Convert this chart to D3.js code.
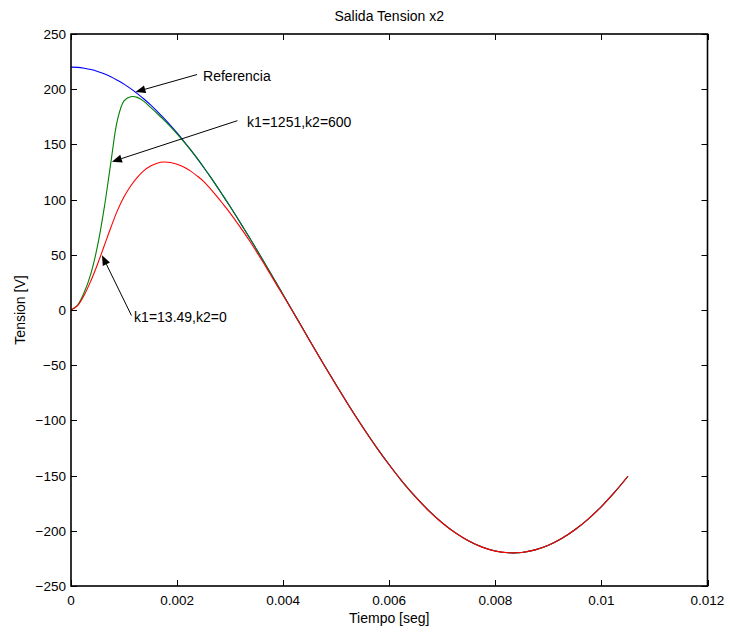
<!DOCTYPE html>
<html>
<head>
<meta charset="utf-8">
<script src="https://cdn.jsdelivr.net/npm/d3@7"></script>
<style>
  html, body { margin: 0; padding: 0; background: #fff; }
  svg { display: block; font-family: "Liberation Sans", Arial, Helvetica, sans-serif; }
</style>
</head>
<body>
<svg id="chart" width="730" height="633"></svg>
<script>
// ---- data ----
const time = [0, 0.000125, 0.00025, 0.000375, 0.0005, 0.000625, 0.00075, 0.000875, 0.001, 0.001125,
  0.00125, 0.001375, 0.0015, 0.001625, 0.00175, 0.001875, 0.002, 0.002125, 0.00225, 0.002375,
  0.0025, 0.002625, 0.00275, 0.002875, 0.003, 0.003125, 0.00325, 0.003375, 0.0035, 0.003625,
  0.00375, 0.003875, 0.004,
  0.00425, 0.0045, 0.00475, 0.005, 0.00525, 0.0055, 0.00575, 0.006, 0.00625, 0.0065,
  0.00675, 0.007, 0.00725, 0.0075, 0.00775, 0.008, 0.00825, 0.0085, 0.00875, 0.009,
  0.00925, 0.0095, 0.00975, 0.01, 0.01025, 0.0105];

const referencia = [220, 219.8, 219.0, 217.8, 216.1, 213.9, 211.3, 208.1, 204.6, 200.5,
  196.0, 191.1, 185.8, 180.0, 173.8, 167.3, 160.4, 153.1, 145.5, 137.6,
  129.3, 120.8, 112.0, 102.9, 93.7, 84.2, 74.5, 64.7, 54.7, 44.6,
  34.4, 24.1, 13.8,
  -6.9, -27.6, -48.0, -68.0, -87.4, -106.0, -123.7, -140.2, -155.6, -169.5,
  -182.0, -192.8, -201.9, -209.2, -214.7, -218.3, -219.9, -219.6, -217.3, -213.1,
  -207.0, -199.1, -189.4, -178.0, -165.0, -150.6];

const k1_1251_k2_600 = [0, 4.5, 16, 33, 58, 92, 133, 172, 189.5, 193.2,
  192.6, 189, 183.5, 178, 172.3, 166.2, 159.6, 152.6, 145.2, 137.5,
  129.3, 120.8, 112.0, 102.9, 93.7, 84.2, 74.5, 64.7, 54.7, 44.6,
  34.4, 24.1, 13.8,
  -6.9, -27.6, -48.0, -68.0, -87.4, -106.0, -123.7, -140.2, -155.6, -169.5,
  -182.0, -192.8, -201.9, -209.2, -214.7, -218.3, -219.9, -219.6, -217.3, -213.1,
  -207.0, -199.1, -189.4, -178.0, -165.0, -150.6];

const k1_1349_k2_0 = [0, 4, 13.5, 26.5, 41.5, 58, 74.5, 90, 102.5, 112.3,
  120.2, 126.3, 130.5, 133, 134, 133.6, 132, 129.5, 126, 121.5,
  116.5, 110, 103, 95.5, 87.8, 79.5, 71, 62, 52.5, 43,
  33, 23, 13.2,
  -7.1, -27.8, -48.2, -68.2, -87.6, -106.2, -123.9, -140.4, -155.8, -169.6,
  -182.1, -192.9, -202.0, -209.3, -214.8, -218.4, -219.9, -219.6, -217.3, -213.1,
  -207.0, -199.1, -189.4, -178.0, -165.0, -150.6];

const xTicks = [0, 0.002, 0.004, 0.006, 0.008, 0.01, 0.012];
const xTickLabels = ["0", "0.002", "0.004", "0.006", "0.008", "0.01", "0.012"];
const yTicks = [-250, -200, -150, -100, -50, 0, 50, 100, 150, 200, 250];
const yTickLabels = ["\u2212250", "\u2212200", "\u2212150", "\u2212100", "\u221250", "0", "50", "100", "150", "200", "250"];

const titleText = "Salida Tension x2";
const xLabelText = "Tiempo [seg]";
const yLabelText = "Tension [V]";

// annotations: text, arrow tip (data), arrow tail (data), text anchor (data)
const annotLabels = ["Referencia", "k1=1251,k2=600", "k1=13.49,k2=0"];
const annotTip = [[0.001215, 197.5], [0.000772, 134.3], [0.000584, 49.6]];
const annotTail = [[0.002377, 213.3], [0.003137, 171.5], [0.00114, -5.0]];
const annotText = [[0.00249, 212.0], [0.00332, 170.5], [0.00119, -6.6]];

// ---- layout ----
const svg = d3.select("#chart");
const L = 71, R = 707.5, T = 34, B = 586;
const x = d3.scaleLinear().domain([0, 0.012]).range([L, R]);
const y = d3.scaleLinear().domain([-250, 250]).range([B, T]);

// curves
const series = [
  { values: referencia, color: "#0000ff" },
  { values: k1_1251_k2_600, color: "#008000" },
  { values: k1_1349_k2_0, color: "#ff0000" }
];
const line = d3.line()
  .x((d, i) => x(time[i]))
  .y(d => y(d))
  .curve(d3.curveCatmullRom.alpha(0.5));

svg.append("g").selectAll("path").data(series).join("path")
  .attr("d", s => line(s.values))
  .attr("fill", "none")
  .attr("stroke", s => s.color)
  .attr("stroke-width", 1.1);

// axes box
svg.append("rect")
  .attr("x", L).attr("y", T).attr("width", R - L).attr("height", B - T)
  .attr("fill", "none").attr("stroke", "#000").attr("stroke-width", 1.6);

// ticks
const tk = 6;
const tg = svg.append("g").attr("stroke", "#000").attr("stroke-width", 1);
xTicks.forEach(v => {
  const px = Math.round(x(v)) + 0.5;
  tg.append("line").attr("x1", px).attr("x2", px).attr("y1", B).attr("y2", B - tk);
  tg.append("line").attr("x1", px).attr("x2", px).attr("y1", T).attr("y2", T + tk);
});
yTicks.forEach(v => {
  const py = Math.round(y(v)) + 0.5;
  tg.append("line").attr("x1", L).attr("x2", L + tk).attr("y1", py).attr("y2", py);
  tg.append("line").attr("x1", R).attr("x2", R - tk).attr("y1", py).attr("y2", py);
});

// tick labels
svg.append("g").selectAll("text").data(xTicks).join("text")
  .attr("x", d => x(d)).attr("y", B + 19)
  .attr("text-anchor", "middle").attr("font-size", 13.5).attr("fill", "#000")
  .text((d, i) => xTickLabels[i]);
svg.append("g").selectAll("text").data(yTicks).join("text")
  .attr("x", L - 5).attr("y", d => y(d) + 5)
  .attr("text-anchor", "end").attr("font-size", 13.5).attr("fill", "#000")
  .text((d, i) => yTickLabels[i]);

// title & labels
svg.append("text").attr("x", (L + R) / 2).attr("y", 21)
  .attr("text-anchor", "middle").attr("font-size", 14).text(titleText);
svg.append("text").attr("x", (L + R) / 2).attr("y", 623)
  .attr("text-anchor", "middle").attr("font-size", 14).text(xLabelText);
svg.append("text").attr("transform", `translate(25,${(T + B) / 2}) rotate(-90)`)
  .attr("text-anchor", "middle").attr("font-size", 14).text(yLabelText);

// annotations
const ag = svg.append("g");
annotLabels.forEach((lab, i) => {
  const tx = x(annotTip[i][0]), ty = y(annotTip[i][1]);
  const sx = x(annotTail[i][0]), sy = y(annotTail[i][1]);
  const dx = sx - tx, dy = sy - ty, len = Math.hypot(dx, dy);
  const ux = dx / len, uy = dy / len;
  const hl = 10, hw = 4;
  const bx = tx + ux * hl, by = ty + uy * hl;
  ag.append("line").attr("x1", sx).attr("y1", sy).attr("x2", bx).attr("y2", by)
    .attr("stroke", "#000").attr("stroke-width", 1);
  ag.append("polygon")
    .attr("points", [[tx, ty], [bx - uy * hw, by + ux * hw], [bx + uy * hw, by - ux * hw]].map(p => p.join(",")).join(" "))
    .attr("fill", "#000");
  ag.append("text").attr("x", x(annotText[i][0])).attr("y", y(annotText[i][1]) + 5)
    .attr("font-size", 14).attr("fill", "#000").text(lab);
});
</script>
</body>
</html>
